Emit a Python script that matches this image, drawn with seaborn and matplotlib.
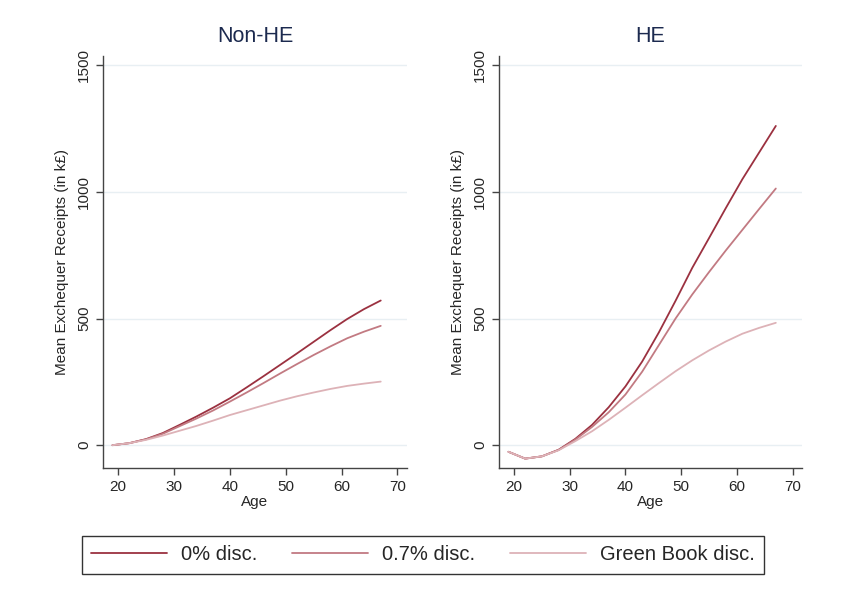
import matplotlib
matplotlib.use("Agg")
import matplotlib.pyplot as plt
import seaborn as sns
import pandas as pd

ages = [19, 22, 25, 28, 31, 34, 37, 40, 43, 46, 49, 52, 55, 58, 61, 64, 67]

# Non-HE mean exchequer receipts (k£)
nonhe_0 = [0, 8, 24, 48, 80, 113, 148, 185, 228, 272, 317, 362, 408, 454, 498, 537, 571]
nonhe_07 = [0, 8, 23, 45, 75, 105, 137, 172, 208, 245, 283, 320, 356, 390, 422, 448, 471]
nonhe_gb = [0, 8, 21, 38, 57, 76, 97, 119, 138, 157, 176, 193, 208, 222, 234, 243, 251]

# HE mean exchequer receipts (k£)
he_0 = [-26, -53, -44, -18, 25, 80, 150, 232, 330, 445, 570, 700, 817, 935, 1050, 1155, 1260]
he_07 = [-26, -53, -44, -19, 22, 72, 130, 200, 290, 395, 500, 595, 683, 768, 850, 932, 1013]
he_gb = [-26, -53, -44, -20, 16, 55, 100, 148, 197, 245, 292, 335, 374, 409, 440, 463, 483]

series_names = ["0% disc.", "0.7% disc.", "Green Book disc."]
panel_titles = ["Non-HE", "HE"]

frames = []
for panel, vals in zip(panel_titles, [[nonhe_0, nonhe_07, nonhe_gb], [he_0, he_07, he_gb]]):
    for name, v in zip(series_names, vals):
        frames.append(pd.DataFrame({"Age": ages, "Receipts": v, "Series": name, "Panel": panel}))
df = pd.concat(frames, ignore_index=True)

sns.set_style("white")
plt.rcParams['font.family'] = ['Liberation Sans', 'DejaVu Sans']

palette = {"0% disc.": "#9b3140", "0.7% disc.": "#c27a82", "Green Book disc.": "#ddb2b7"}

fig = plt.figure(figsize=(8.48, 6.06), dpi=100)
W, H = 848, 606
axes = [
    fig.add_axes([103 / W, (H - 468) / H, 304 / W, 412 / H]),
    fig.add_axes([499 / W, (H - 468) / H, 303 / W, 412 / H]),
]

for ax, panel in zip(axes, panel_titles):
    sub = df[df["Panel"] == panel]
    sns.lineplot(data=sub, x="Age", y="Receipts", hue="Series", palette=palette,
                 hue_order=series_names, ax=ax, linewidth=1.3, legend=False)
    ax.set_xlim(17.3, 71.7)
    ax.set_ylim(-90, 1536)
    ax.set_xticks([20, 30, 40, 50, 60, 70])
    ax.set_yticks([0, 500, 1000, 1500])
    ax.set_yticklabels(["0", "500", "1000", "1500"], rotation=90, va="center")
    ax.grid(axis="y", color="#e8eff3", linewidth=1)
    ax.set_axisbelow(True)
    for s in ["top", "right"]:
        ax.spines[s].set_visible(False)
    for s in ["left", "bottom"]:
        ax.spines[s].set_color("#444444")
        ax.spines[s].set_linewidth(1)
    ax.tick_params(axis="both", which="both", direction="out", length=5, width=1,
                   color="#444444", labelsize=11, left=True, bottom=True)
    ax.set_xlabel("Age", fontsize=11, labelpad=1)
    ax.set_ylabel("Mean Exchequer Receipts (in k£)", fontsize=11, labelpad=6)
    ax.set_title(panel, fontsize=15.5, color="#1c2a4f", pad=10)

handles = [plt.Line2D([], [], color=palette[n], linewidth=1.3) for n in series_names]
leg = fig.legend(handles, series_names, loc="center", bbox_to_anchor=(423 / W, 1 - 555 / H),
                 ncol=3, fontsize=14.5, frameon=True, fancybox=False, handlelength=3.8,
                 columnspacing=1.7, borderpad=0.45, handletextpad=0.7, borderaxespad=0)
leg.get_frame().set_edgecolor("black")
leg.get_frame().set_linewidth(1)

fig.savefig("out.png", dpi=100)
